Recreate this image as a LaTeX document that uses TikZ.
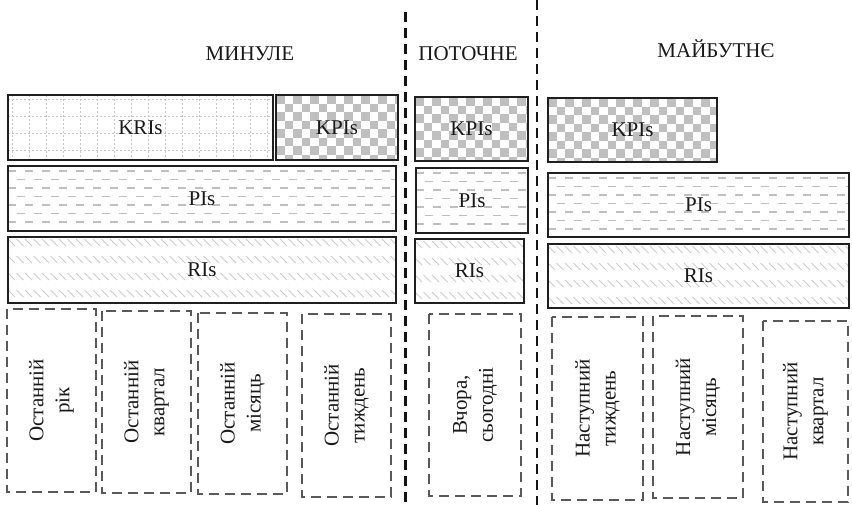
\documentclass[tikz,border=0pt]{standalone}
\usepackage{fontspec}
\setmainfont{Liberation Serif}
\newcommand{\hbx}[7]{\node[#6, minimum width={#4-#2}, minimum height={#5-#3}] (#1) at ({(#2+#4)/2},{(#3+#5)/2}) {#7};}
\newcommand{\tbx}[6]{\node[dbox, rotate=90, minimum width={#5-#3}, minimum height={#4-#2}] (#1) at ({(#2+#4)/2},{(#3+#5)/2}) {#6};}
\begin{document}
\begin{tikzpicture}[x=1pt,y=-1pt,
  every node/.style={font=\fontsize{21}{26}\selectfont, text=black!90, inner sep=0pt},
  sbox/.style={draw=black!88, line width=2.2pt},
  dbox/.style={draw=black!65, line width=1.9pt, dash pattern=on 10pt off 6pt, align=center},
  sep/.style={draw=black!92, line width=2.6pt, dash pattern=on 10pt off 6pt},
  head/.style={anchor=base},
  pat kri/.style={path picture={
    \foreach \k in {0,...,16}{
      \draw[gray!45, line width=0.9pt, dash pattern=on 2pt off 2pt]
        ([xshift=\k*17pt+4pt]path picture bounding box.north west) --
        ([xshift=\k*17pt+4pt]path picture bounding box.south west);}
    \foreach \k in {0,...,4}{
      \draw[gray!45, line width=0.9pt, dash pattern=on 2pt off 2pt]
        ([yshift=-\k*17pt-4pt]path picture bounding box.north west) --
        ([yshift=-\k*17pt-4pt]path picture bounding box.north east);}
  }},
  pat kpi/.style={path picture={
    \foreach \i in {0,...,10}{\foreach \j in {0,...,4}{
      \fill[gray!50] ([shift={(\i*17pt,-\j*17pt)}]path picture bounding box.north west) rectangle ++(8.5pt,-8.5pt);
      \fill[gray!50] ([shift={(\i*17pt+8.5pt,-\j*17pt-8.5pt)}]path picture bounding box.north west) rectangle ++(8.5pt,-8.5pt);
    }}
  }},
  pat pi/.style={path picture={
    \foreach \k in {0,...,7}{
      \pgfmathsetmacro\ph{mod(\k,2)*8.5}
      \draw[gray!50, line width=1.7pt, dash pattern=on 8pt off 9pt, dash phase=\ph pt]
        ([yshift=-\k*8.5pt-5pt]path picture bounding box.north west) --
        ([yshift=-\k*8.5pt-5pt]path picture bounding box.north east);}
  }},
  pat ri/.style={path picture={
    \foreach \r in {0,...,3}{
      \draw[gray!40, line width=0.9pt]
        \foreach \c in {0,...,47}{
          ([shift={(\c*8.5pt,-\r*17pt-2pt)}]path picture bounding box.north west) -- ++(7pt,-7pt)
        };}
  }}
]
\useasboundingbox (0,0) rectangle (852,504);

% separators
\coordinate (s1t) at (405.5,12);
\coordinate (s1b) at (405.5,506);
\coordinate (s2t) at (537,0);
\coordinate (s2b) at (537,506);
\draw[sep] (s1t) -- (s1b);
\draw[sep] (s2t) -- (s2b);

% headings
\node[head] (hpast) at (250,60) {МИНУЛЕ};
\node[head] (hcur) at (468,60) {ПОТОЧНЕ};
\node[head] (hfut) at (716,57) {МАЙБУТНЄ};

% past
\hbx{kri}{8}{95}{273}{160}{sbox,pat kri}{KRIs}
\hbx{kpa}{276}{95}{398}{160}{sbox,pat kpi}{KPIs}
\hbx{ppa}{8}{166}{396}{231}{sbox,pat pi}{PIs}
\hbx{rpa}{8}{237}{396}{303}{sbox,pat ri}{RIs}

% current
\hbx{kcu}{415}{97}{528}{161}{sbox,pat kpi}{KPIs}
\hbx{pcu}{416}{168}{528}{233}{sbox,pat pi}{PIs}
\hbx{rcu}{415}{239}{524}{303}{sbox,pat ri}{RIs}

% future
\hbx{kfu}{548}{98}{717}{162}{sbox,pat kpi}{KPIs}
\hbx{pfu}{548}{173}{849}{237}{sbox,pat pi}{PIs}
\hbx{rfu}{548}{244}{849}{308}{sbox,pat ri}{RIs}

% periods
\tbx{b1}{7}{309}{96}{492}{Останній\\рік}
\tbx{b2}{102}{311}{191}{493}{Останній\\квартал}
\tbx{b3}{198}{313}{287}{494}{Останній\\місяць}
\tbx{b4}{302}{314}{391}{497}{Останній\\тиждень}
\tbx{b5}{429}{314}{521}{496}{Вчора,\\сьогодні}
\tbx{b6}{552}{317}{643}{500}{Наступний\\тиждень}
\tbx{b7}{653}{316}{743}{498}{Наступний\\місяць}
\tbx{b8}{763}{321}{848}{502}{Наступний\\квартал}
\end{tikzpicture}
\end{document}
